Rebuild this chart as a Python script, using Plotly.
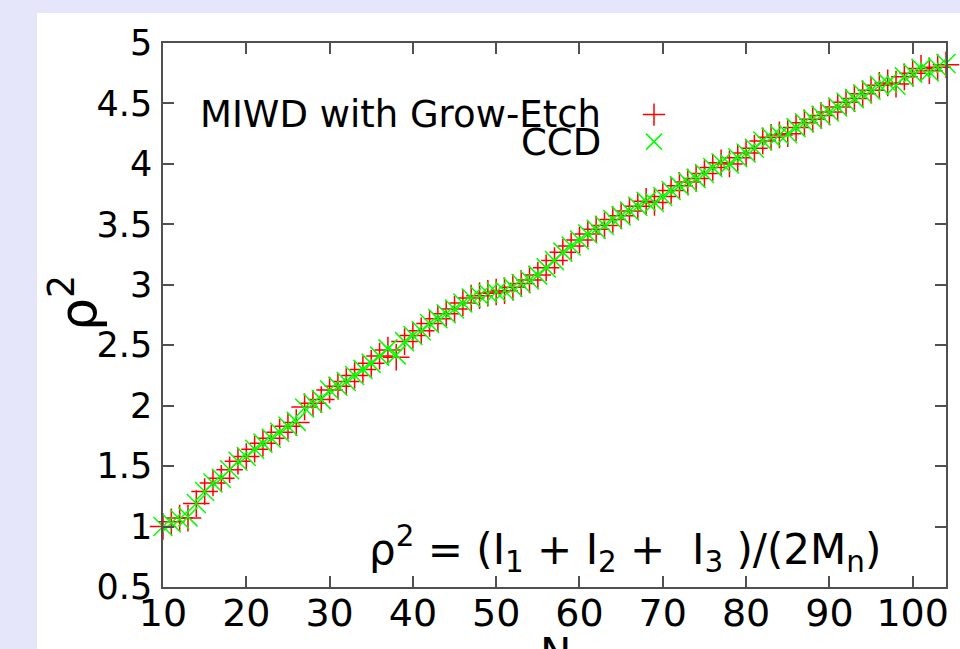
import plotly.graph_objects as go

N = list(range(10, 105))

ccd = [1.00, 1.03, 1.06, 1.08, 1.19, 1.29, 1.36, 1.40, 1.47, 1.54,
       1.58, 1.64, 1.69, 1.73, 1.78, 1.83, 1.87, 1.98, 2.02, 2.05,
       2.13, 2.16, 2.20, 2.25, 2.30, 2.35, 2.41, 2.47, 2.42, 2.53,
       2.58, 2.62, 2.68, 2.72, 2.76, 2.80, 2.85, 2.89, 2.91, 2.93,
       2.94, 2.95, 2.98, 3.01, 3.04, 3.08, 3.14, 3.20, 3.27, 3.32,
       3.37, 3.42, 3.46, 3.49, 3.54, 3.57, 3.61, 3.65, 3.69, 3.68,
       3.73, 3.78, 3.82, 3.85, 3.88, 3.92, 3.97, 4.01, 4.00, 4.05,
       4.09, 4.13, 4.19, 4.22, 4.24, 4.25, 4.30, 4.34, 4.37, 4.40,
       4.43, 4.47, 4.51, 4.54, 4.58, 4.61, 4.65, 4.67, 4.65, 4.72,
       4.75, 4.79, 4.76, 4.80, 4.83]

miwd = [1.00, 1.04, 1.07, 1.07, 1.19, 1.29, 1.36, 1.40, 1.47, 1.54,
        1.58, 1.64, 1.69, 1.73, 1.78, 1.83, 1.86, 1.99, 2.02, 2.05,
        2.13, 2.16, 2.20, 2.25, 2.30, 2.35, 2.41, 2.46, 2.40, 2.53,
        2.58, 2.62, 2.68, 2.72, 2.76, 2.80, 2.85, 2.89, 2.91, 2.93,
        2.94, 2.95, 2.98, 3.01, 3.04, 3.08, 3.14, 3.20, 3.27, 3.32,
        3.37, 3.42, 3.46, 3.49, 3.54, 3.57, 3.61, 3.65, 3.69, 3.68,
        3.73, 3.78, 3.82, 3.85, 3.88, 3.92, 3.97, 4.01, 4.00, 4.05,
        4.09, 4.13, 4.19, 4.22, 4.24, 4.25, 4.30, 4.34, 4.37, 4.40,
        4.43, 4.47, 4.51, 4.54, 4.58, 4.61, 4.65, 4.67, 4.66, 4.72,
        4.75, 4.79, 4.77, 4.80, 4.82]

x_ticks = [10, 20, 30, 40, 50, 60, 70, 80, 90, 100]
y_ticks = [0.5, 1, 1.5, 2, 2.5, 3, 3.5, 4, 4.5, 5]
series_names = ["MIWD with Grow-Etch", "CCD"]

FONT = "DejaVu Sans"
AX = "#505050"

W, H = 960, 649
L, R, T, B = 163, 946, 43, 587


def px_x(p):
    return (p - L) / (R - L)


def px_y(p):
    return (B - p) / (B - T)


fig = go.Figure()
fig.add_trace(go.Scatter(
    x=N, y=miwd, mode="markers", name=" ", showlegend=True,
    marker=dict(symbol="cross-thin", size=19, color="#ff0000",
                line=dict(color="#ff0000", width=1.5)),
    legend="legend", cliponaxis=False))
fig.add_trace(go.Scatter(
    x=N, y=ccd, mode="markers", name=" ", showlegend=True,
    marker=dict(symbol="x-thin", size=19, color="#00ff00",
                line=dict(color="#00ff00", width=1.5)),
    legend="legend2", cliponaxis=False))

leg_common = dict(xanchor="left", yanchor="middle", bgcolor="rgba(0,0,0,0)",
                  font=dict(size=14), borderwidth=0, itemwidth=30)

fig.update_layout(
    width=W, height=H,
    showlegend=True,
    margin=dict(l=L, r=W - R, t=T, b=H - B, autoexpand=False),
    paper_bgcolor="#e6e6fa",
    plot_bgcolor="white",
    font=dict(family=FONT, color="black"),
    shapes=[dict(type="rect", xref="paper", yref="paper",
                 x0=px_x(37), x1=px_x(W + 10), y0=px_y(H + 10), y1=px_y(13),
                 fillcolor="white", line=dict(width=0), layer="below")],
    xaxis=dict(range=[10, 104], tickvals=x_ticks, ticks="inside", ticklen=11,
               tickcolor=AX, tickwidth=1.5, showline=True, linecolor=AX, linewidth=1.5,
               mirror="ticks", showgrid=False, zeroline=False, automargin=False,
               ticklabelstandoff=-8,
               tickfont=dict(size=38, family=FONT, color="black")),
    yaxis=dict(range=[0.5, 5], tickvals=y_ticks, ticks="inside", ticklen=11,
               tickcolor=AX, tickwidth=1.5, showline=True, linecolor=AX, linewidth=1.5,
               mirror="ticks", showgrid=False, zeroline=False, automargin=False,
               ticklabelstandoff=2,
               tickfont=dict(size=35, family=FONT, color="black")),
    legend=dict(x=px_x(634), y=px_y(115), **leg_common),
    legend2=dict(x=px_x(634), y=px_y(142), **leg_common),
    annotations=[
        dict(text=series_names[0], xref="paper", yref="paper",
             x=px_x(603), y=px_y(115), xanchor="right", yanchor="middle",
             showarrow=False, font=dict(size=37, family=FONT, color="black")),
        dict(text=series_names[1], xref="paper", yref="paper",
             x=px_x(603), y=px_y(142), xanchor="right", yanchor="middle",
             showarrow=False, font=dict(size=37, family=FONT, color="black")),
        dict(text="ρ<sup>2</sup> = (I<sub>1</sub> + I<sub>2</sub> +\u00a0\u00a0I<sub>3</sub>\u00a0)/(2M<sub>n</sub>)",
             xref="paper", yref="paper", x=px_x(883), y=px_y(581),
             xanchor="right", yanchor="bottom", showarrow=False,
             font=dict(size=42, family=FONT, color="black")),
        dict(text="N", xref="paper", yref="paper",
             x=px_x(555), y=px_y(627), xanchor="center", yanchor="top",
             showarrow=False, font=dict(size=42, family=FONT, color="black")),
        dict(text="ρ<sup>2</sup>", xref="paper", yref="paper",
             x=px_x(74), y=px_y(303), xanchor="center", yanchor="middle",
             textangle=-90, showarrow=False,
             font=dict(size=52, family=FONT, color="black")),
    ],
)

fig.write_html("out.html", config={"displayModeBar": False})
